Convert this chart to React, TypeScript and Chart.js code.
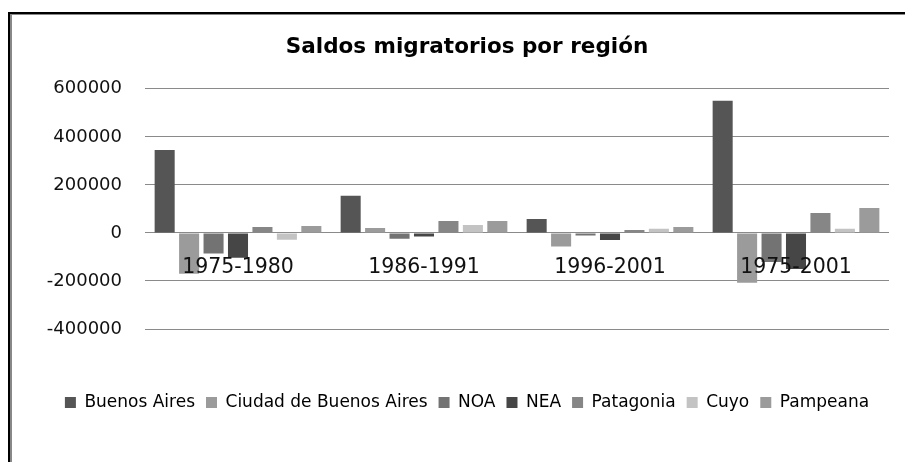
import React, { useEffect, useRef } from "react";
import { Chart, registerables } from "chart.js";

Chart.register(...registerables);

const categories = ["1975-1980", "1986-1991", "1996-2001", "1975-2001"];
const seriesNames = ["Buenos Aires", "Ciudad de Buenos Aires", "NOA", "NEA", "Patagonia", "Cuyo", "Pampeana"];
const buenosAires = [345000, 155000, 58000, 550000];
const ciudadBA = [-170000, 21000, -57000, -207000];
const noa = [-86000, -24000, -11000, -121000];
const nea = [-103000, -15000, -29000, -150000];
const patagonia = [25000, 50000, 12500, 83000];
const cuyo = [-28000, 33000, 17000, 17000];
const pampeana = [29000, 50000, 25000, 104000];
const seriesColors = ["#555555", "#9b9b9b", "#737373", "#464646", "#868686", "#c3c3c3", "#9b9b9b"];
const yTicksMin = -400000;
const yTicksMax = 600000;
const yStep = 200000;

export default function App() {
  const ref = useRef<HTMLCanvasElement | null>(null);
  useEffect(() => {
    if (!ref.current) return;
    const values = [buenosAires, ciudadBA, noa, nea, patagonia, cuyo, pampeana];
    const chart = new Chart(ref.current, {
      type: "bar",
      data: {
        labels: categories,
        datasets: values.map((v, i) => ({
          label: seriesNames[i],
          data: v,
          backgroundColor: seriesColors[i],
          borderWidth: 0,
          categoryPercentage: 0.92,
          barPercentage: 0.82,
        })),
      },
      options: {
        responsive: false,
        animation: false,
        devicePixelRatio: 1,
        layout: { padding: { left: 33, right: 16, top: 0, bottom: 41 } },
        plugins: {
          title: {
            display: true,
            text: "Saldos migratorios por región",
            color: "#000",
            font: { family: "DejaVu Sans", size: 21.5, weight: "bold" },
            padding: { top: 20, bottom: 28 },
          },
          legend: {
            position: "bottom",
            labels: {
              color: "#000",
              font: { family: "DejaVu Sans", size: 17 },
              boxWidth: 11,
              boxHeight: 11,
              padding: 11,
            },
          },
          tooltip: { enabled: false },
        },
        scales: {
          x: {
            position: { y: 0 },
            grid: { display: false, drawTicks: false },
            border: { display: false },
            ticks: {
              z: 1,
              color: "#111",
              font: { family: "DejaVu Sans", size: 20.5 },
              padding: 22,
              maxRotation: 0,
            },
          },
          xSpacer: {
            type: "category",
            position: "bottom",
            labels: categories,
            grid: { display: false, drawTicks: false },
            border: { display: false },
            ticks: { display: false },
            afterFit: (s: any) => {
              s.height = 54;
            },
          },
          y: {
            min: yTicksMin,
            max: yTicksMax,
            grid: { color: "#8a8a8a", lineWidth: 1, drawTicks: false },
            border: { display: false },
            ticks: {
              stepSize: yStep,
              color: "#111",
              font: { family: "DejaVu Sans", size: 18 },
              padding: 23,
              callback: (v: any) => String(v),
            },
            afterFit: (s: any) => {
              s.width = 100;
            },
          },
        },
      },
    });
    return () => chart.destroy();
  }, []);
  return (
    <div
      style={{
        position: "fixed",
        left: 8,
        top: 12,
        width: 897,
        height: 450,
        borderTop: "2px solid #000",
        borderLeft: "2px solid #000",
        boxSizing: "border-box",
        background: "#fff",
      }}
    >
      <div
        style={{
          position: "absolute",
          left: 0,
          top: 0,
          right: 0,
          bottom: 0,
          borderTop: "1px solid #888",
          borderLeft: "2px solid #888",
        }}
      >
        <canvas ref={ref} width={893} height={447} style={{ display: "block", width: 893, height: 447 }} />
      </div>
    </div>
  );
}
